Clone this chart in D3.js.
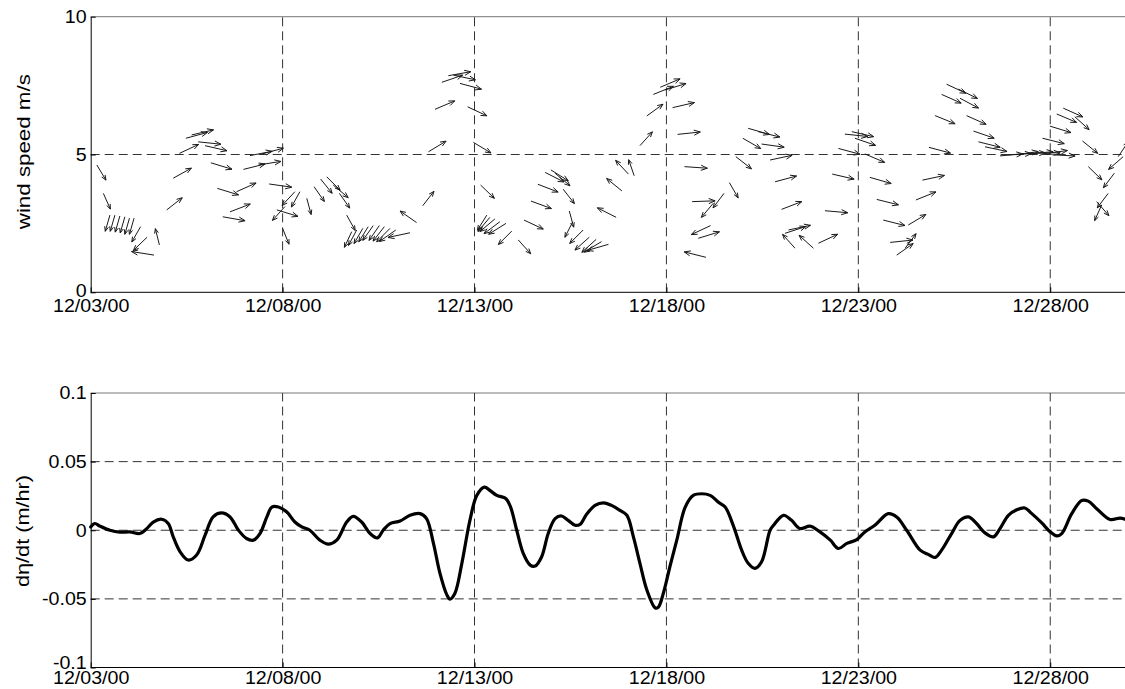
<!DOCTYPE html>
<html><head><meta charset="utf-8">
<script src="https://cdn.jsdelivr.net/npm/d3@7"></script>
<style>
html,body{margin:0;padding:0;background:#fff;}
text{font-family:"Liberation Sans",Arial,sans-serif;fill:#000;}
</style></head>
<body><svg id="c" width="1125" height="689"></svg>
<script>
// ---- data ----
// x tick positions (days after 12/03/00) and labels
const xTickDays = [0, 5, 10, 15, 20, 25];
const xTickLabels = ["12/03/00", "12/08/00", "12/13/00", "12/18/00", "12/23/00", "12/28/00"];
const windTicks = [0, 5, 10];
const etaTicks = [-0.1, -0.05, 0, 0.05, 0.1];
const etaTickLabels = ["-0.1", "-0.05", "0", "0.05", "0.1"];

// wind vectors: time (days), speed (m/s), direction (deg, counter-clockwise from east)
const windDay = [0.16,0.33,0.50,0.63,0.76,0.89,1.01,1.13,1.30,1.47,1.65,1.79,1.98,2.15,2.31,2.48,2.63,2.80,2.98,3.13,3.30,3.44,3.63,3.80,3.98,4.15,4.37,4.46,4.65,4.85,5.00,5.06,5.32,5.45,5.63,5.82,5.99,6.15,6.32,6.48,6.67,6.80,6.93,7.09,7.23,7.36,7.52,7.65,7.80,7.95,8.32,8.49,8.65,8.80,8.97,9.15,9.32,9.45,9.62,9.82,9.97,10.16,10.32,10.40,10.53,10.66,10.82,10.97,11.14,11.29,11.47,11.65,11.84,11.99,12.10,12.31,12.47,12.56,12.83,12.99,13.17,13.31,13.49,13.69,13.84,14.01,14.16,14.31,14.49,14.66,14.84,14.96,15.16,15.29,15.47,15.67,15.83,16.03,16.15,16.22,16.50,16.64,16.81,16.99,17.13,17.39,17.48,17.70,17.83,18.00,18.09,18.18,18.35,18.83,18.96,19.13,19.32,19.48,19.65,19.83,19.91,20.17,20.30,20.48,20.65,20.83,21.00,21.22,21.30,21.50,21.67,21.84,22.00,22.17,22.30,22.61,22.65,22.82,23.00,23.13,23.30,23.69,23.91,24.10,24.28,24.48,24.66,24.80,24.86,24.99,25.05,25.17,25.34,25.64,25.84,25.99,26.21,26.34,26.51,26.67,26.77,26.90];
const windSpeed = [4.62,3.59,2.80,2.80,2.77,2.74,2.69,2.69,2.38,2.00,1.35,1.72,2.99,4.14,5.04,5.59,5.71,5.46,5.32,4.70,3.77,2.74,2.92,3.65,4.46,4.96,4.62,5.02,3.93,2.99,2.32,3.11,3.65,3.65,3.41,3.83,4.11,4.19,3.89,3.59,2.80,2.20,2.26,2.32,2.38,2.42,2.42,2.38,2.32,2.26,2.16,2.53,3.14,5.10,6.64,7.62,7.86,7.88,7.58,6.73,5.44,3.89,2.80,2.72,2.66,2.56,2.50,2.22,1.90,2.62,3.31,3.92,4.35,4.44,4.32,3.74,2.95,2.56,2.26,2.00,1.92,1.84,1.74,2.72,3.68,4.29,4.23,5.32,6.40,7.18,7.44,7.34,6.70,5.73,4.56,3.29,1.96,1.27,2.42,3.23,3.59,3.98,4.92,5.59,5.95,5.83,5.38,4.80,4.01,3.01,2.14,2.26,1.60,1.60,1.78,2.96,4.29,5.22,5.74,5.83,5.59,5.02,4.17,3.37,2.62,1.81,1.35,1.60,2.44,3.35,4.07,5.26,6.41,7.18,7.55,7.37,7.04,6.41,5.85,5.46,5.28,4.95,4.99,4.99,5.03,5.03,5.06,5.59,5.03,6.03,4.99,6.47,6.68,6.37,5.49,4.56,3.29,3.17,3.59,4.32,4.92,4.92];
const windDir = [-59,-66,-106,-106,-106,-106,-106,-106,-120,-136,171,104,38,29,25,15,13,-6,-13,-17,-17,-10,21,24,14,11,9,15,-8,-17,-68,-132,-133,-119,-75,-55,-51,-45,-40,-55,-61,-115,-118,-120,-122,-125,-125,-128,-135,-145,-168,145,52,31,23,19,10,-12,-15,-25,-31,-44,-122,-130,-140,-143,-148,-135,-48,-25,-20,-21,-27,-32,-40,-52,-75,-117,-135,-138,-138,-149,-164,153,141,133,109,48,36,22,23,17,13,6,-4,2,17,166,-155,-130,-127,-60,-38,-30,-16,-14,-8,12,15,21,18,12,132,138,25,-5,-13,-15,-6,-13,-19,-23,-16,-14,-14,6,35,53,31,22,12,-15,-22,-24,-25,-26,-28,-24,-19,-14,-12,5,3,8,2,5,0,-14,8,-17,-3,-23,-24,-42,-39,-44,-49,-114,-127,-127,56,-139];

// d(eta)/dt (m/hr)
const etaDay = [0,0.11,0.24,0.50,0.76,1.02,1.28,1.46,1.63,1.85,2.02,2.15,2.33,2.54,2.76,2.98,3.19,3.41,3.63,3.85,4.06,4.24,4.41,4.59,4.72,4.89,5.11,5.32,5.50,5.71,5.97,6.19,6.41,6.67,6.84,7.06,7.28,7.47,7.62,7.80,8.06,8.32,8.58,8.75,8.93,9.10,9.28,9.36,9.49,9.67,9.88,10.06,10.26,10.40,10.58,10.82,10.94,11.10,11.27,11.45,11.58,11.75,11.92,12.10,12.27,12.44,12.62,12.75,12.92,13.14,13.36,13.57,13.79,13.97,14.14,14.31,14.49,14.71,14.79,14.92,15.09,15.27,15.49,15.70,15.92,16.14,16.35,16.53,16.74,16.96,17.13,17.31,17.48,17.70,17.79,18.05,18.26,18.48,18.74,19.00,19.27,19.48,19.70,19.96,20.17,20.43,20.78,21.00,21.26,21.61,21.82,22.00,22.17,22.43,22.65,22.87,23.08,23.30,23.52,23.69,23.91,24.13,24.34,24.52,24.78,25.00,25.17,25.30,25.56,25.82,25.99,26.21,26.56,26.82,26.95];
const etaVal = [0.0024,0.0049,0.003,0,-0.0014,-0.0012,-0.0024,0.0012,0.006,0.008,0.0049,-0.0048,-0.0157,-0.0217,-0.018,-0.0036,0.0097,0.0126,0.0097,0,-0.006,-0.0072,-0.0024,0.0097,0.0169,0.0169,0.0133,0.006,0.0024,0,-0.0072,-0.0101,-0.0072,0.006,0.0101,0.006,-0.0024,-0.0056,0,0.0049,0.0067,0.0109,0.0121,0.0085,-0.0096,-0.0314,-0.0471,-0.0502,-0.0459,-0.0241,0.0072,0.0254,0.0314,0.029,0.0254,0.023,0.0169,0,-0.0169,-0.0254,-0.0261,-0.0193,-0.0024,0.0085,0.0104,0.0072,0.0036,0.0043,0.0116,0.0181,0.02,0.0181,0.0145,0.0109,-0.0048,-0.0241,-0.0435,-0.0567,-0.056,-0.0459,-0.0266,-0.0072,0.0169,0.0254,0.0266,0.0254,0.0205,0.0169,0.0036,-0.0145,-0.0241,-0.0278,-0.023,0,0.0036,0.0109,0.0072,0.0012,0.003,-0.0012,-0.0072,-0.0133,-0.0096,-0.0068,-0.0012,0.0036,0.0121,0.0097,0,-0.0145,-0.0176,-0.0198,-0.0145,-0.0024,0.0072,0.0097,0.0049,-0.0019,-0.0048,0.0012,0.0109,0.015,0.0162,0.0121,0.0053,-0.0012,-0.0041,-0.0024,0.0121,0.0217,0.0212,0.0157,0.0078,0.0089,0.008];

// ---- drawing ----
const svg = d3.select("#c");
svg.append("rect").attr("width",1125).attr("height",689).attr("fill","#fff");

const x = d3.scaleLinear().domain([0, 27]).range([90.7, 1127]);
const yW = d3.scaleLinear().domain([0, 10]).range([292.3, 16.7]);
const yE = d3.scaleLinear().domain([-0.1, 0.1]).range([667.5, 393]);

const dash = "9,5";
const gridColor = "#333";
const stretch = 1.09; // horizontal widening of tick text as in the reference

function widen(sel) {
  sel.each(function () {
    const w = this.getComputedTextLength();
    d3.select(this).attr("textLength", w * stretch).attr("lengthAdjust", "spacingAndGlyphs");
  });
}

function panel(y, yTicks, yLabels, gridY, labelBaseline, lowShift) {
  const g = svg.append("g");
  const [y0, y1] = y.range();
  g.append("line").attr("x1", x.range()[0]).attr("x2", 1125).attr("y1", y1).attr("y2", y1)
    .attr("stroke", "#777").attr("stroke-width", 1);
  xTickDays.slice(1).forEach(d => {
    g.append("line").attr("x1", x(d)).attr("x2", x(d)).attr("y1", y0).attr("y2", y1)
      .attr("stroke", gridColor).attr("stroke-width", 1).attr("stroke-dasharray", dash);
  });
  gridY.forEach(v => {
    g.append("line").attr("x1", x.range()[0]).attr("x2", 1125).attr("y1", y(v)).attr("y2", y(v))
      .attr("stroke", gridColor).attr("stroke-width", 1).attr("stroke-dasharray", dash);
  });
  const xa = d3.axisBottom(x).tickValues(xTickDays).tickFormat((d, i) => xTickLabels[i]).tickSizeInner(-5).tickSizeOuter(0).tickPadding(0);
  const gx = g.append("g").attr("transform", `translate(0,${y0})`).call(xa);
  gx.select(".domain").attr("stroke", "#000").attr("d", `M${x.range()[0]},0H1125`);
  gx.selectAll("text").attr("y", labelBaseline - y0).attr("dy", null)
    .style("font-size", "18px").attr("fill", "#000").call(widen);
  const ya = d3.axisLeft(y).tickValues(yTicks).tickFormat((d, i) => yLabels[i]).tickSizeInner(-5).tickSizeOuter(0).tickPadding(4);
  const gy = g.append("g").attr("transform", `translate(${x.range()[0]},0)`).call(ya);
  gy.select(".domain").attr("stroke", "#000");
  gy.selectAll("text").style("font-size", "18px").attr("fill", "#000").call(widen);
  // lowest y label sits slightly above its tick, as in the reference
  gy.selectAll(".tick").filter((d, i) => i === 0).select("text").attr("y", -lowShift);
  g.selectAll(".tick line").attr("stroke", "#000");
  return g;
}

panel(yW, windTicks, windTicks.map(String), [5], 312, 2);
panel(yE, etaTicks, etaTickLabels, [-0.05, 0, 0.05], 684, 5);

svg.append("text").attr("transform", "translate(30,151.7) rotate(-90)")
  .attr("text-anchor", "middle").style("font-size", "19px")
  .attr("textLength", 155).attr("lengthAdjust", "spacingAndGlyphs")
  .text("wind speed m/s");
svg.append("text").attr("transform", "translate(28.5,531) rotate(-90)")
  .attr("text-anchor", "middle").style("font-size", "19px")
  .attr("textLength", 112).attr("lengthAdjust", "spacingAndGlyphs")
  .text("dη/dt (m/hr)");

svg.append("clipPath").attr("id", "clipTop").append("rect")
  .attr("x", 91).attr("y", 0).attr("width", 1040).attr("height", 300);

const ax = 23, ay = 16.5;
const arrows = svg.append("g").attr("clip-path", "url(#clipTop)")
  .attr("fill", "none").attr("stroke", "#1a1a1a").attr("stroke-width", 1);
windDay.forEach((d, i) => {
  const th = windDir[i] * Math.PI / 180;
  const c = Math.cos(th), s = Math.sin(th);
  const L = 1 / Math.sqrt((c / ax) ** 2 + (s / ay) ** 2);
  const x0 = x(d), y0 = yW(windSpeed[i]);
  const x1 = x0 + L * c, y1 = y0 - L * s;
  const back = Math.atan2(y0 - y1, x0 - x1);
  const h = 0.3 * L, ha = 22 * Math.PI / 180;
  const hx1 = x1 + h * Math.cos(back + ha), hy1 = y1 + h * Math.sin(back + ha);
  const hx2 = x1 + h * Math.cos(back - ha), hy2 = y1 + h * Math.sin(back - ha);
  arrows.append("path")
    .attr("d", `M${x0},${y0}L${x1},${y1}M${hx1},${hy1}L${x1},${y1}L${hx2},${hy2}`);
});

const line = d3.line().x((d, i) => x(etaDay[i])).y(d => yE(d)).curve(d3.curveCatmullRom.alpha(0.5));
svg.append("path").datum(etaVal).attr("d", line)
  .attr("fill", "none").attr("stroke", "#000").attr("stroke-width", 3.2)
  .attr("stroke-linejoin", "round").attr("stroke-linecap", "round");
</script>
</body></html>
